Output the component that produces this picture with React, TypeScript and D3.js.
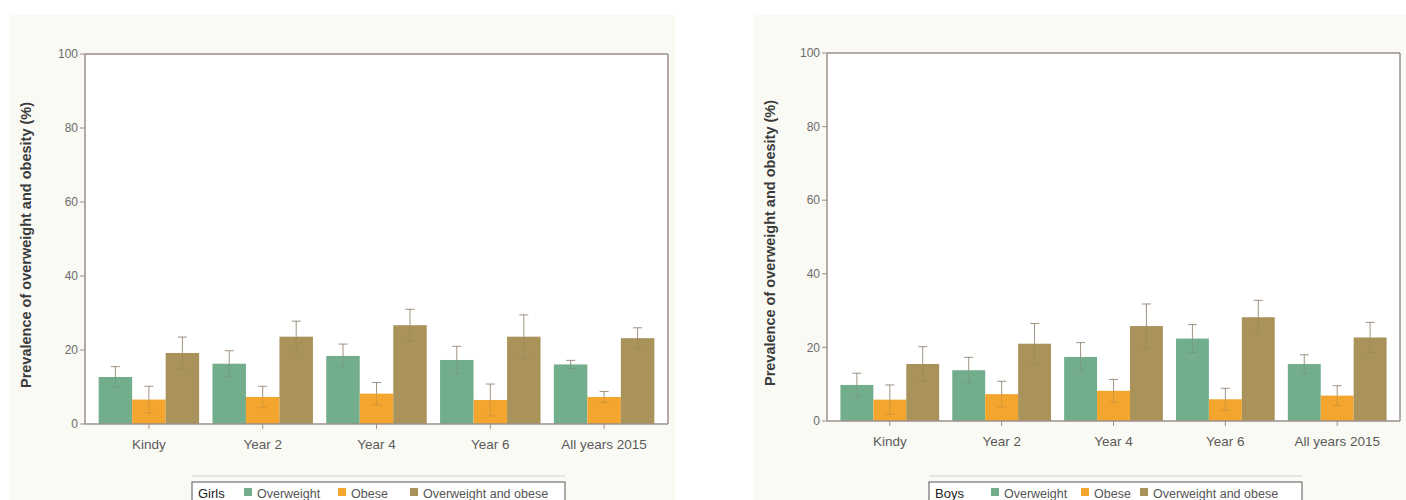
import React from "react";
import * as d3 from "d3";

const categories = ["Kindy", "Year 2", "Year 4", "Year 6", "All years 2015"];
const seriesNames = ["Overweight", "Obese", "Overweight and obese"];
const seriesColors = ["#72ae8c", "#f3a52e", "#aa935b"];
const yTicks = [0, 20, 40, 60, 80, 100];

const girlsOverweight = [12.7, 16.3, 18.4, 17.3, 16.1];
const girlsObese = [6.6, 7.3, 8.2, 6.5, 7.3];
const girlsOverweightObese = [19.2, 23.6, 26.7, 23.6, 23.2];
const girlsOverweightUpper = [15.5, 19.8, 21.6, 21.0, 17.2];
const girlsObeseUpper = [10.2, 10.2, 11.2, 10.8, 8.8];
const girlsOverweightObeseUpper = [23.5, 27.8, 31.0, 29.5, 26.0];

const boysOverweight = [9.8, 13.8, 17.4, 22.4, 15.5];
const boysObese = [5.8, 7.3, 8.2, 5.9, 6.9];
const boysOverweightObese = [15.5, 21.0, 25.8, 28.2, 22.7];
const boysOverweightUpper = [13.0, 17.3, 21.3, 26.2, 18.0];
const boysObeseUpper = [9.8, 10.8, 11.3, 8.9, 9.6];
const boysOverweightObeseUpper = [20.2, 26.5, 31.8, 32.8, 26.8];

type PanelProps = {
  label: string;
  values: number[][];
  uppers: number[][];
  bgX0: number;
  bgX1: number;
  x0: number;
  x1: number;
  y0: number;
  y1: number;
  titleX: number;
  legendX0: number;
  legendW: number;
  legendItemX: number[];
};

const axisColor = "#9c8f8b";
const font = "Arial, 'Liberation Sans', sans-serif";

function Panel(p: PanelProps) {
  const x = d3
    .scaleBand<string>()
    .domain(categories)
    .range([p.x0, p.x1])
    .paddingInner(0.117)
    .paddingOuter(0.12);
  const xs = d3
    .scaleBand<string>()
    .domain(seriesNames)
    .range([0, x.bandwidth()])
    .padding(0);
  const y = d3.scaleLinear().domain([0, 100]).range([p.y0, p.y1]);
  const capW = 9;

  return (
    <g>
      <rect x={p.bgX0} y={15} width={p.bgX1 - p.bgX0} height={490} fill="#fafaf5" />
      <rect x={p.x0} y={p.y1} width={p.x1 - p.x0} height={p.y0 - p.y1} fill="#ffffff" />
      {categories.map((c, ci) =>
        seriesNames.map((s, si) => {
          const v = p.values[si][ci];
          const bx = (x(c) as number) + (xs(s) as number);
          return (
            <rect
              key={c + s}
              x={bx}
              y={y(v)}
              width={xs.bandwidth()}
              height={y(0) - y(v)}
              fill={seriesColors[si]}
            />
          );
        })
      )}
      {categories.map((c, ci) =>
        seriesNames.map((s, si) => {
          const v = p.values[si][ci];
          const up = p.uppers[si][ci];
          const lo = 2 * v - up;
          const cx = (x(c) as number) + (xs(s) as number) + xs.bandwidth() / 2;
          return (
            <g key={"e" + c + s} stroke="#80705c" strokeWidth={1}>
              <line x1={cx} x2={cx} y1={y(up)} y2={y(v)} opacity={0.75} />
              <line x1={cx - capW / 2} x2={cx + capW / 2} y1={y(up)} y2={y(up)} opacity={0.75} />
              <line x1={cx} x2={cx} y1={y(v)} y2={y(lo)} opacity={0.25} />
              <line x1={cx - capW / 2} x2={cx + capW / 2} y1={y(lo)} y2={y(lo)} opacity={0.25} />
            </g>
          );
        })
      )}
      {/* plot frame */}
      <line x1={p.x0} x2={p.x1} y1={p.y1} y2={p.y1} stroke={axisColor} strokeWidth={1.5} />
      <line x1={p.x1} x2={p.x1} y1={p.y1} y2={p.y0} stroke={axisColor} strokeWidth={1.5} />
      <line x1={p.x0} x2={p.x0} y1={p.y1} y2={p.y0} stroke={axisColor} strokeWidth={1.5} />
      <line x1={p.x0} x2={p.x1} y1={p.y0} y2={p.y0} stroke={axisColor} strokeWidth={1.5} />
      {yTicks.map((t) => (
        <g key={"yt" + t}>
          <line x1={p.x0 - 5} x2={p.x0} y1={y(t)} y2={y(t)} stroke={axisColor} strokeWidth={1} />
          <text
            x={p.x0 - 7}
            y={y(t)}
            dy="0.35em"
            textAnchor="end"
            fontSize={12}
            fill="#6b6b6b"
            fontFamily={font}
          >
            {t}
          </text>
        </g>
      ))}
      {categories.map((c) => {
        const cx = (x(c) as number) + x.bandwidth() / 2;
        return (
          <g key={"xt" + c}>
            <line x1={cx} x2={cx} y1={p.y0} y2={p.y0 + 5} stroke={axisColor} strokeWidth={1} />
            <text
              x={cx}
              y={p.y0 + 25}
              textAnchor="middle"
              fontSize={13.5}
              fill="#5a5a5a"
              fontFamily={font}
            >
              {c}
            </text>
          </g>
        );
      })}
      <text
        transform={`translate(${p.titleX},${(p.y0 + p.y1) / 2 + 6}) rotate(-90)`}
        textAnchor="middle"
        fontSize={14.5}
        fontWeight="bold"
        fill="#3a3a3a"
        fontFamily={font}
      >
        Prevalence of overweight and obesity (%)
      </text>
      {/* legend */}
      <line x1={p.legendX0} x2={p.legendX0 + p.legendW} y1={476} y2={476} stroke="#d2d2d2" strokeWidth={1} />
      <rect
        x={p.legendX0}
        y={482}
        width={p.legendW}
        height={24}
        fill="#ffffff"
        stroke="#555"
        strokeWidth={1}
      />
      <text x={p.legendX0 + 6} y={498} fontSize={13} fill="#222" fontFamily={font}>
        {p.label}
      </text>
      {seriesNames.map((s, si) => (
        <g key={"lg" + s}>
          <rect x={p.legendX0 + p.legendItemX[si]} y={488} width={8} height={8} fill={seriesColors[si]} />
          <text
            x={p.legendX0 + p.legendItemX[si] + 13}
            y={498}
            fontSize={12.5}
            fill="#555"
            fontFamily={font}
          >
            {s}
          </text>
        </g>
      ))}
    </g>
  );
}

export default function App() {
  return (
    <svg
      width={1406}
      height={500}
      style={{ position: "absolute", left: 0, top: 0, background: "#ffffff" }}
    >
      <Panel
        label="Girls"
        values={[girlsOverweight, girlsObese, girlsOverweightObese]}
        uppers={[girlsOverweightUpper, girlsObeseUpper, girlsOverweightObeseUpper]}
        bgX0={10}
        bgX1={675}
        x0={85}
        x1={668}
        y0={424}
        y1={54}
        titleX={31}
        legendX0={192}
        legendW={373}
        legendItemX={[52, 146, 218]}
      />
      <Panel
        label="Boys"
        values={[boysOverweight, boysObese, boysOverweightObese]}
        uppers={[boysOverweightUpper, boysObeseUpper, boysOverweightObeseUpper]}
        bgX0={753}
        bgX1={1406}
        x0={827}
        x1={1400}
        y0={421}
        y1={53}
        titleX={775}
        legendX0={929}
        legendW={373}
        legendItemX={[62, 152, 211]}
      />
    </svg>
  );
}
